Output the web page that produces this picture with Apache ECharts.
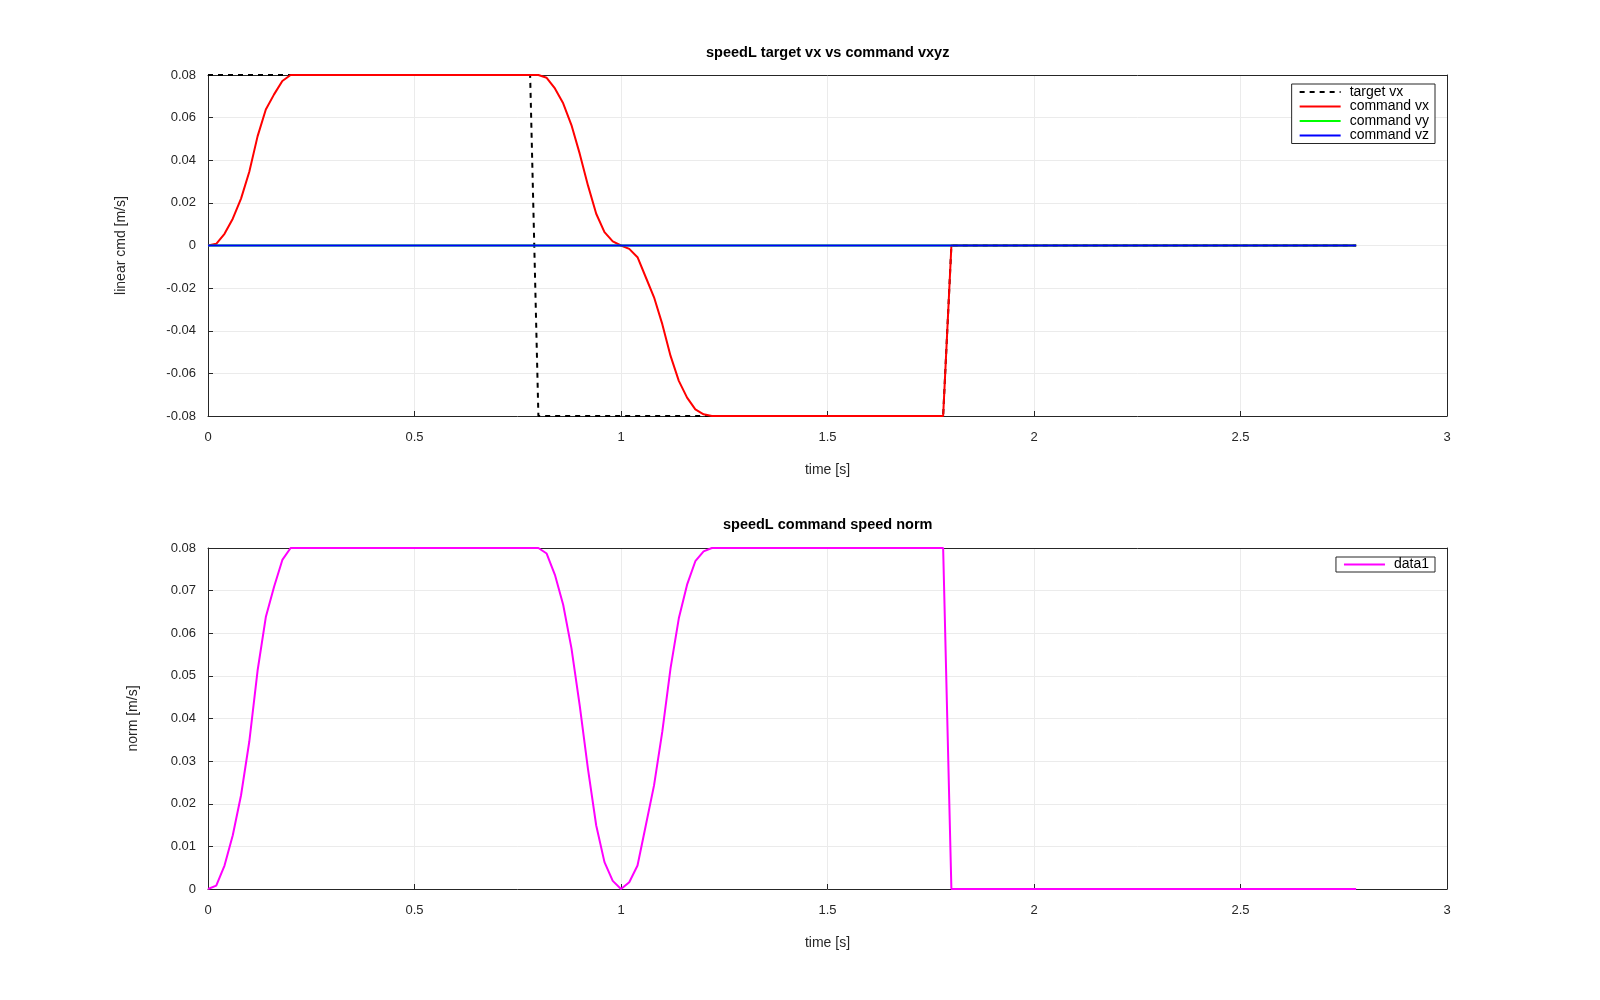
<!DOCTYPE html>
<html>
<head>
<meta charset="utf-8">
<script src="https://cdn.jsdelivr.net/npm/echarts@6/dist/echarts.min.js"></script>
<style>
html,body{margin:0;padding:0;background:#fff;}
#chart{width:1600px;height:1000px;}
</style>
</head>
<body>
<div id="chart"></div>
<script>
// ---- data ----
const titleTop = 'speedL target vx vs command vxyz';
const titleBottom = 'speedL command speed norm';
const xTicks = [0, 0.5, 1, 1.5, 2, 2.5, 3];

const targetTime = [0, 0.78, 0.80, 1.78, 1.80, 2.78];
const targetVx   = [0.08, 0.08, -0.08, -0.08, 0, 0];

const cmdTime = [0, 0.02, 0.04, 0.06, 0.08, 0.10, 0.12, 0.14, 0.16, 0.18, 0.20,
                 0.80, 0.82, 0.84, 0.86, 0.88, 0.90, 0.92, 0.94, 0.96, 0.98, 1.00,
                 1.02, 1.04, 1.06, 1.08, 1.10, 1.12, 1.14, 1.16, 1.18, 1.20, 1.22,
                 1.78, 1.80, 2.78];
const cmdVx = [0, 0.0008, 0.0055, 0.0126, 0.022, 0.0346, 0.0512, 0.0638, 0.0709, 0.0772, 0.08,
               0.08, 0.0787, 0.0737, 0.0667, 0.0565, 0.0431, 0.0282, 0.0149, 0.0063, 0.0019, 0,
               -0.0016, -0.0055, -0.0149, -0.0243, -0.0369, -0.0518, -0.0635, -0.0714, -0.0769, -0.0792, -0.08,
               -0.08, 0, 0];
const yzTime = [0, 2.78];
const cmdVy = [0, 0];
const cmdVz = [0, 0];

const normData = [0, 0.0008, 0.0055, 0.0126, 0.022, 0.0346, 0.0512, 0.0638, 0.0709, 0.0772, 0.08,
                  0.08, 0.0787, 0.0737, 0.0667, 0.0565, 0.0431, 0.0282, 0.0149, 0.0063, 0.0019, 0,
                  0.0016, 0.0055, 0.0149, 0.0243, 0.0369, 0.0518, 0.0635, 0.0714, 0.0769, 0.0792, 0.08,
                  0.08, 0, 0];

// ---- build ----
const zip = (t, v) => t.map((x, i) => [x, v[i]]);
const FONT = '"Liberation Sans", Arial, Helvetica, sans-serif';
const TXT = '#262626';
const AX = '#262626';
const GRIDC = '#ebebeb';

const chart = echarts.init(document.getElementById('chart'), null, {renderer: 'canvas'});

function xAx(gi, pos, show) {
  return {
    gridIndex: gi, type: 'value', position: pos, min: 0, max: 3, interval: 0.5,
    name: show ? 'time [s]' : '', nameLocation: 'middle', nameGap: 47,
    nameTextStyle: {fontFamily: FONT, fontSize: 14, color: TXT},
    axisLine: {show: true, onZero: false, lineStyle: {color: AX, width: 1}},
    axisTick: {show: show, inside: true, length: 5, lineStyle: {color: AX}},
    axisLabel: {show: show, fontFamily: FONT, fontSize: 13, color: TXT, margin: 15},
    splitLine: {show: show, lineStyle: {color: GRIDC, width: 1}}
  };
}
function yAx(gi, pos, show, min, max, interval, name, gap) {
  return {
    gridIndex: gi, type: 'value', position: pos, min: min, max: max, interval: interval,
    name: show ? name : '', nameLocation: 'middle', nameGap: gap, nameRotate: 90,
    nameTextStyle: {fontFamily: FONT, fontSize: 14, color: TXT},
    axisLine: {show: true, onZero: false, lineStyle: {color: AX, width: 1}},
    axisTick: {show: show, inside: true, length: 5, lineStyle: {color: AX}},
    axisLabel: {show: show, fontFamily: FONT, fontSize: 13, color: TXT, margin: 12},
    splitLine: {show: show, lineStyle: {color: GRIDC, width: 1}}
  };
}

const legendItemStyle = {color: 'transparent', borderWidth: 0, opacity: 0};

const option = {
  backgroundColor: '#fff',
  animation: false,
  title: [
    {text: titleTop, left: 827.7, top: 45, textAlign: 'center', padding: 0,
     textStyle: {fontFamily: FONT, fontSize: 14.5, fontWeight: 'bold', color: '#000'}},
    {text: titleBottom, left: 827.7, top: 517, textAlign: 'center', padding: 0,
     textStyle: {fontFamily: FONT, fontSize: 14.5, fontWeight: 'bold', color: '#000'}}
  ],
  grid: [
    {left: 208, top: 75, width: 1239, height: 341},
    {left: 208, top: 548, width: 1239, height: 341}
  ],
  legend: [
    {
      orient: 'vertical', right: 165, top: 84,
      data: ['target vx', 'command vx', 'command vy', 'command vz'],
      backgroundColor: '#fff', borderColor: AX, borderWidth: 1,
      padding: [1, 6, 1, 7], itemWidth: 41, itemHeight: 10, itemGap: 0.5,
      itemStyle: legendItemStyle,
      textStyle: {fontFamily: FONT, fontSize: 14, color: '#000', lineHeight: 14, padding: [0, 0, 0, 4]}
    },
    {
      orient: 'vertical', right: 165, top: 557,
      data: ['data1'],
      backgroundColor: '#fff', borderColor: AX, borderWidth: 1,
      padding: [0, 6, 0, 7], itemWidth: 41, itemHeight: 10, itemGap: 0,
      itemStyle: legendItemStyle,
      textStyle: {fontFamily: FONT, fontSize: 14, color: '#000', lineHeight: 15, padding: [0, 0, 0, 4]}
    }
  ],
  xAxis: [xAx(0, 'bottom', true), xAx(0, 'top', false), xAx(1, 'bottom', true), xAx(1, 'top', false)],
  yAxis: [
    yAx(0, 'left', true, -0.08, 0.08, 0.02, 'linear cmd [m/s]', 80),
    yAx(0, 'right', false, -0.08, 0.08, 0.02, '', 0),
    yAx(1, 'left', true, 0, 0.08, 0.01, 'norm [m/s]', 68),
    yAx(1, 'right', false, 0, 0.08, 0.01, '', 0)
  ],
  series: [
    {name: 'target vx', type: 'line', xAxisIndex: 0, yAxisIndex: 0, data: zip(targetTime, targetVx),
     symbol: 'none', color: '#000', lineStyle: {color: '#000', width: 2, type: [5, 5]}, clip: false},
    {name: 'command vx', type: 'line', xAxisIndex: 0, yAxisIndex: 0, data: zip(cmdTime, cmdVx),
     symbol: 'none', color: '#ff0000', lineStyle: {color: '#ff0000', width: 2}, clip: false},
    {name: 'command vy', type: 'line', xAxisIndex: 0, yAxisIndex: 0, data: zip(yzTime, cmdVy),
     symbol: 'none', color: '#00ff00', lineStyle: {color: '#00ff00', width: 2}, clip: false},
    {name: 'command vz', type: 'line', xAxisIndex: 0, yAxisIndex: 0, data: zip(yzTime, cmdVz),
     symbol: 'none', color: '#0000ff', lineStyle: {color: '#0000ff', width: 2}, clip: false},
    {name: 'data1', type: 'line', xAxisIndex: 2, yAxisIndex: 2, data: zip(cmdTime, normData),
     symbol: 'none', color: '#ff00ff', lineStyle: {color: '#ff00ff', width: 2}, clip: false}
  ]
};
chart.setOption(option);
</script>
</body>
</html>
